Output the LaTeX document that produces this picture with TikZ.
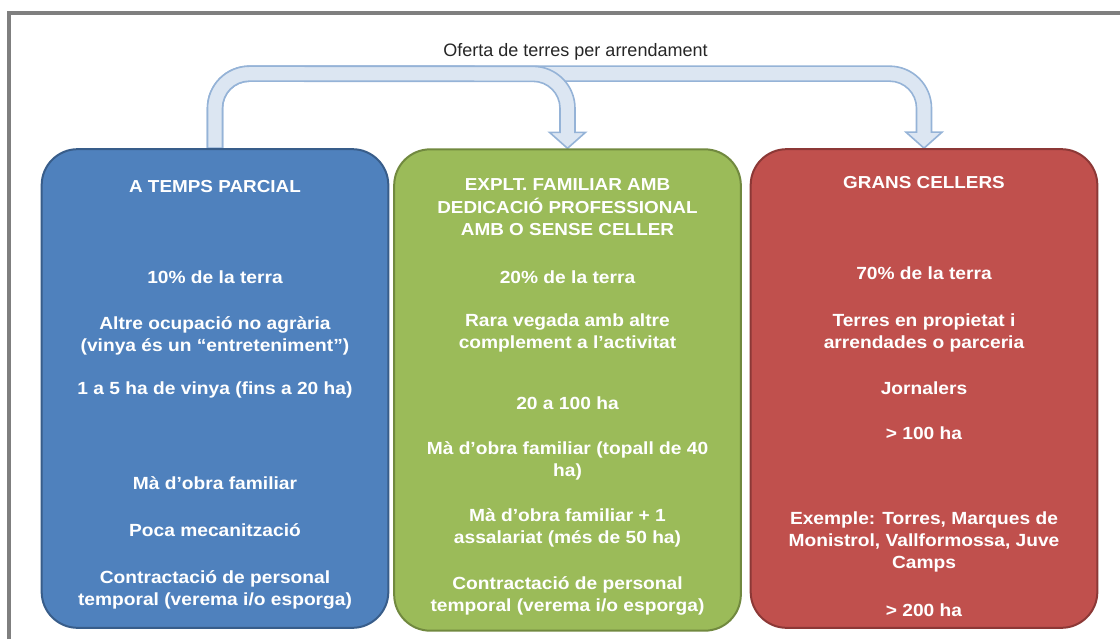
\documentclass[tikz,border=0pt]{standalone}
\usepackage{fontspec}
\setmainfont{Liberation Sans}
\newfontfamily\boxfont{Liberation Sans}[FakeStretch=1.09]
\usepackage{xcolor}
\definecolor{parcialFill}{HTML}{4F81BD}
\definecolor{parcialLine}{HTML}{385D8A}
\definecolor{familiarFill}{HTML}{9BBB59}
\definecolor{familiarLine}{HTML}{71893F}
\definecolor{cellersFill}{HTML}{C0504D}
\definecolor{cellersLine}{HTML}{8C3836}
\definecolor{ofertaFill}{HTML}{DCE6F2}
\definecolor{ofertaLine}{HTML}{95B3D7}
\definecolor{frameGray}{HTML}{7F7F7F}
\usepackage{tikz}
\usetikzlibrary{calc, backgrounds}

\begin{document}
\begin{tikzpicture}[x=0.75pt, y=0.75pt,
    box/.style={rounded corners=27pt, line width=1.5pt, minimum width=260pt, minimum height=359pt},
    txt/.style={anchor=north, inner sep=0pt, text=white, align=center, font=\boxfont\bfseries\fontsize{13.2}{16.5}\selectfont},
    head/.style={txt, font=\boxfont\bfseries\fontsize{13}{16.8}\selectfont},
    oferta/.style={fill=ofertaFill, draw=ofertaLine, line width=1.2pt}]
        % Page frame
        \useasboundingbox (0,0) rectangle (1120,-639);
        \draw[frameGray, line width=3pt] (9,-639) |- (1120,-13);

        % Boxes
        \node[box, fill=parcialFill, draw=parcialLine] (parcial) at (215,-388.5) {};
        \node[box, fill=familiarFill, draw=familiarLine, minimum height=361pt] (familiar) at (567.5,-390) {};
        \node[box, fill=cellersFill, draw=cellersLine] (cellers) at (924,-388.5) {};

        % Land offered for rent
        \node[anchor=base, text=black!85, font=\fontsize{13.5}{15}\selectfont] (oferta) at (575.5,-56) {Oferta de terres per arrendament};
        \begin{scope}[on background layer]
            \filldraw[oferta] ($(parcial.north)+(-7.5,0)$) -- ++(0,40) arc[start angle=180, end angle=90, radius=42]
                -- ($(cellers.north)+(-34.5,82)$) arc[start angle=90, end angle=0, radius=42]
                -- ($(cellers.north)+(7.5,16)$) -- ++(10.5,0) -- (cellers.north) -- ++(-18,16) -- ++(10.5,0)
                -- ++(0,24) arc[start angle=0, end angle=90, radius=27]
                -- ($(parcial.north)+(34.5,67)$) arc[start angle=90, end angle=180, radius=27]
                -- ($(parcial.north)+(7.5,0)$) -- cycle;
            \filldraw[oferta] ($(parcial.north)+(-7.5,0)$) -- ++(0,40) arc[start angle=180, end angle=90, radius=42]
                -- ($(familiar.north)+(-34.5,82)$) arc[start angle=90, end angle=0, radius=42]
                -- ($(familiar.north)+(7.5,16)$) -- ++(10.5,0) -- (familiar.north) -- ++(-18,16) -- ++(10.5,0)
                -- ++(0,24) arc[start angle=0, end angle=90, radius=27]
                -- ($(parcial.north)+(34.5,67)$) arc[start angle=90, end angle=180, radius=27]
                -- ($(parcial.north)+(7.5,0)$) -- cycle;
        \end{scope}

        % Part time
        \node[head] (p0) at (215,-180.5) {A TEMPS PARCIAL};
        \node[txt] (p1) at (215,-270.5) {10\% de la terra};
        \node[txt] (p2) at (215,-316.5) {Altre ocupació no agrària\\(vinya és un “entreteniment”)};
        \node[txt] (p3) at (215,-381.5) {1 a 5 ha de vinya (fins a 20 ha)};
        \node[txt] (p4) at (215,-476.5) {Mà d’obra familiar};
        \node[txt] (p5) at (215,-523.5) {Poca mecanització};
        \node[txt] (p6) at (215,-570.5) {Contractació de personal\\temporal (verema i/o esporga)};

        % Family holdings
        \node[head] (f0) at (567.5,-178.5) {EXPLT. FAMILIAR AMB\\DEDICACIÓ PROFESSIONAL\\AMB O SENSE CELLER};
        \node[txt] (f1) at (567.5,-270.5) {20\% de la terra};
        \node[txt] (f2) at (567.5,-313.5) {Rara vegada amb altre\\complement a l’activitat};
        \node[txt] (f3) at (567.5,-396.5) {20 a 100 ha};
        \node[txt] (f4) at (567.5,-441.5) {Mà d’obra familiar (topall de 40\\ha)};
        \node[txt] (f5) at (567.5,-508.5) {Mà d’obra familiar + 1\\assalariat (més de 50 ha)};
        \node[txt] (f6) at (567.5,-576.5) {Contractació de personal\\temporal (verema i/o esporga)};

        % Large wineries
        \node[head] (c0) at (924,-176.5) {GRANS CELLERS};
        \node[txt] (c1) at (924,-266.5) {70\% de la terra};
        \node[txt] (c2) at (924,-313.5) {Terres en propietat i\\arrendades o parceria};
        \node[txt] (c3) at (924,-381.5) {Jornalers};
        \node[txt] (c4) at (924,-426.5) {> 100 ha};
        \node[txt] (c5) at (924,-511.5) {Exemple: Torres, Marques de\\Monistrol, Vallformossa, Juve\\Camps};
        \node[txt] (c6) at (924,-603.5) {> 200 ha};
    \end{tikzpicture}
\end{document}
